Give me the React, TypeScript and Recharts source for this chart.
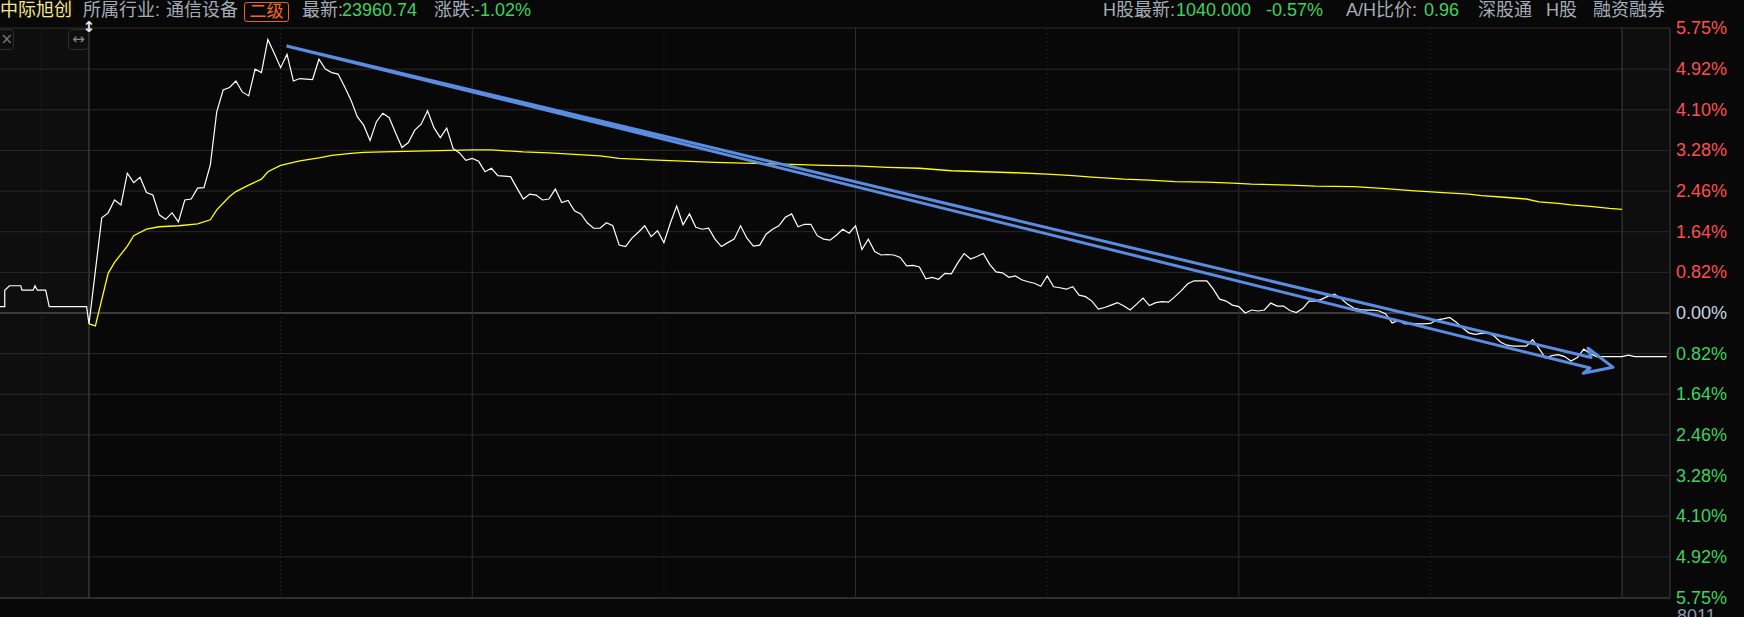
import React from 'react';
import { ComposedChart, Line, XAxis, YAxis, ReferenceLine } from 'recharts';

const W = 1744;
const H = 617;

// auction panel: minutes after 9:15 (panel spans 15 minutes)
const preTimes = [0, 0.8, 0.8, 1.6, 3.5, 3.7, 5.6, 5.9, 6.3, 7.7, 8.3, 14.6];
const preValues = [0.13, 0.13, 0.46, 0.55, 0.55, 0.46, 0.46, 0.55, 0.46, 0.46, 0.13, 0.13];

// main session, one value per minute: 0 = 9:30, 120 = 11:30 / 13:00, 240 = 15:00
const priceValues = [
  -0.22, 0.85, 1.92, 2.02, 2.28, 2.18, 2.82, 2.63, 2.74, 2.43,
  2.38, 1.98, 1.89, 2.02, 1.84, 2.28, 2.3, 2.52, 2.53, 2.99,
  4.06, 4.5, 4.55, 4.68, 4.46, 4.38, 4.92, 4.85, 5.52, 5.24,
  4.95, 5.22, 4.68, 4.73, 4.72, 4.71, 5.12, 4.92, 4.85, 4.82,
  4.57, 4.3, 3.96, 3.79, 3.48, 3.86, 4.03, 3.94, 3.63, 3.34,
  3.44, 3.69, 3.81, 4.08, 3.74, 3.54, 3.73, 3.32, 3.23, 3.08,
  3.12, 3.06, 2.85, 2.92, 2.77, 2.76, 2.75, 2.52, 2.3, 2.4,
  2.38, 2.28, 2.3, 2.5, 2.23, 2.27, 2.06, 2.0, 1.82, 1.71,
  1.71, 1.82, 1.76, 1.37, 1.34, 1.51, 1.63, 1.76, 1.54, 1.66,
  1.42, 1.81, 2.16, 1.78, 2.0, 1.73, 1.69, 1.71, 1.49, 1.34,
  1.42, 1.49, 1.76, 1.51, 1.35, 1.37, 1.59, 1.69, 1.76, 1.93,
  2.0, 1.74, 1.79, 1.79, 1.56, 1.49, 1.47, 1.57, 1.69, 1.61,
  1.76, 1.28, 1.49, 1.24, 1.17, 1.18, 1.17, 1.12, 0.95, 0.96,
  0.93, 0.69, 0.72, 0.68, 0.8, 0.79, 1.01, 1.2, 1.09, 1.14,
  1.2, 0.98, 0.83, 0.81, 0.72, 0.75, 0.67, 0.63, 0.6, 0.54,
  0.75, 0.53, 0.51, 0.48, 0.53, 0.36, 0.33, 0.24, 0.08, 0.11,
  0.16, 0.21, 0.14, 0.06, 0.18, 0.3, 0.15, 0.21, 0.23, 0.22,
  0.33, 0.45, 0.59, 0.65, 0.65, 0.65, 0.48, 0.28, 0.24, 0.16,
  0.13, 0.0, 0.06, 0.04, 0.06, 0.2, 0.14, 0.14, 0.05, 0.01,
  0.09, 0.24, 0.24, 0.28, 0.34, 0.38, 0.29, 0.18, 0.1, 0.07,
  0.06, 0.06, 0.04, -0.02, -0.2, -0.15, -0.22, -0.21, -0.22, -0.22,
  -0.21, -0.14, -0.12, -0.09, -0.18, -0.3, -0.4, -0.43, -0.41, -0.4,
  -0.47, -0.59, -0.65, -0.67, -0.67, -0.67, -0.54, -0.72, -0.91, -0.86,
  -0.84, -0.88, -0.97, -0.9, -0.73, -0.82, -0.88, -0.88, -0.88, -0.88,
  -0.88,
];

// after-hours panel (minutes after 15:00 on the same minute scale)
const postTimes = [241, 242, 243, 244, 245, 246, 247];
const postValues = [-0.85, -0.88, -0.88, -0.88, -0.88, -0.88, -0.88];

// average price line
const avgTimes = [
  0, 1, 2, 3, 4, 6, 7, 9, 11, 14, 17, 19, 20, 22, 23, 25, 27, 28, 30, 33,
  36, 38, 41, 43, 46, 53, 60, 63, 68, 72, 76, 80, 83, 88, 92, 98, 104, 110, 115, 120,
  125, 130, 135, 140, 145, 150, 154, 157, 162, 166, 170, 175, 179, 182, 188, 192, 198, 203, 207, 212,
  216, 218, 221, 225, 227, 230, 232, 235, 238, 240,
];
const avgValues = [
  -0.22, -0.26, 0.27, 0.8, 1.02, 1.35, 1.56, 1.69, 1.74, 1.76, 1.8, 1.88, 2.08, 2.35, 2.45, 2.58, 2.7, 2.85, 2.98, 3.07,
  3.13, 3.18, 3.22, 3.24, 3.25, 3.27, 3.29, 3.29, 3.25, 3.23, 3.2, 3.17, 3.12, 3.09, 3.07, 3.04, 3.02, 3.0, 2.98, 2.97,
  2.94, 2.92, 2.87, 2.85, 2.83, 2.8, 2.77, 2.74, 2.7, 2.68, 2.65, 2.64, 2.62, 2.6, 2.58, 2.56, 2.55, 2.51, 2.47, 2.43,
  2.4, 2.37, 2.34, 2.3, 2.24, 2.21, 2.18, 2.15, 2.11, 2.09,
];

// hand-drawn arrow annotation (outline), in minute / percent units
const arrowTimes = [30.92, 235.15, 234.68, 238.59, 233.9, 234.99, 30.92];
const arrowValues = [5.387, -0.898, -0.712, -1.096, -1.217, -1.11, 5.387];

const yTicks = [5.75, 4.92, 4.1, 3.28, 2.46, 1.64, 0.82, 0, -0.82, -1.64, -2.46, -3.28, -4.1, -4.92, -5.75];
const hourLines = [60, 120, 180];
const halfHourLines = [30, 90, 150, 210];
const preHalfLine = 6.9;

const PRE_SPAN = 13.93;
const POST_SPAN = 7.5;
const preSlot = (t: number) => -PRE_SPAN + (t * PRE_SPAN) / 15;

const priceData = [
  ...preTimes.map((t, i) => ({ t: preSlot(t), v: preValues[i] })),
  ...priceValues.map((v, i) => ({ t: i, v })),
  ...postTimes.map((t, i) => ({ t, v: postValues[i] })),
];
const avgData = avgTimes.map((t, i) => ({ t, v: avgValues[i] }));
const arrowData = arrowTimes.map((t, i) => ({ t, v: arrowValues[i] }));

const RED = '#ff4f4f';
const GREEN = '#3cd35f';
const GRAY = '#a4acb8';
const GRID = '#2a2a2a';

const YTick = (props: any) => {
  const { x, y, payload } = props;
  const v = payload.value as number;
  const color = v > 0 ? RED : v < 0 ? GREEN : '#c8d6e4';
  return (
    <text x={x} y={y} fill={color} fontSize={18} fontFamily='"Liberation Sans", Arial, sans-serif' textAnchor="start" dominantBaseline="central">
      {Math.abs(v).toFixed(2) + '%'}
    </text>
  );
};

const HFONT = '"Liberation Sans", "Noto Sans CJK SC", sans-serif';

const T = ({ x, c, children }: { x: number; c: string; children: React.ReactNode }) => (
  <div style={{ position: 'absolute', left: x, top: 0, height: 20, lineHeight: '20px', fontSize: 18, color: c, fontFamily: HFONT, whiteSpace: 'pre' }}>
    {children}
  </div>
);

export default function App() {
  return (
    <div style={{ position: 'absolute', left: 0, top: 0, width: W, height: H, background: '#080808', overflow: 'hidden' }}>
      {/* auction and after-hours panels are slightly lighter */}
      <div style={{ position: 'absolute', left: 0, top: 28, width: 89, height: 570, background: '#0e0e0e' }} />
      <div style={{ position: 'absolute', left: 1622, top: 28, width: 48, height: 570, background: '#0e0e0e' }} />

      <div style={{ position: 'absolute', left: 0, top: 0 }}>
        <ComposedChart width={W} height={H} margin={{ top: 28, right: 0, bottom: 19, left: 0 }}>
          <XAxis type="number" dataKey="t" domain={[-PRE_SPAN, 240 + POST_SPAN]} allowDataOverflow hide />
          <YAxis
            orientation="right"
            width={74}
            type="number"
            domain={[-5.75, 5.75]}
            ticks={yTicks}
            interval={0}
            tickLine={false}
            axisLine={false}
            tickMargin={0}
            tick={<YTick />}
            allowDataOverflow
          />
          {yTicks.map((v) => (
            <ReferenceLine key={'h' + v} y={v} stroke={v === 0 ? '#3c3c3c' : Math.abs(v) === 5.75 ? '#2e2e2e' : GRID} strokeWidth={v === 0 || v === -5.75 ? 2 : 1} />
          ))}
          <ReferenceLine x={preSlot(preHalfLine)} stroke="#333" strokeDasharray="1 3" />
          <ReferenceLine x={0} stroke="#383838" strokeWidth={1.5} />
          {hourLines.map((m) => (
            <ReferenceLine key={'v' + m} x={m} stroke="#2e2e2e" />
          ))}
          <ReferenceLine x={240} stroke="#2e2e2e" strokeWidth={1.5} />
          <ReferenceLine x={240 + POST_SPAN} stroke="#2e2e2e" strokeWidth={1.5} />
          {halfHourLines.map((m) => (
            <ReferenceLine key={'d' + m} x={m} stroke="#333" strokeDasharray="1 3" />
          ))}
          <Line data={avgData} dataKey="v" type="linear" stroke="#ffff00" strokeWidth={1.3} dot={false} isAnimationActive={false} />
          <Line data={priceData} dataKey="v" type="linear" stroke="#ffffff" strokeWidth={1.2} dot={false} isAnimationActive={false} />
          <Line data={arrowData} dataKey="v" type="linear" stroke="#5a8de2" strokeWidth={3} strokeLinejoin="round" dot={false} isAnimationActive={false} />
        </ComposedChart>
      </div>

      {/* header */}
      <T x={0} c="#f6e68a">中际旭创</T>
      <T x={83} c={GRAY}>所属行业:</T>
      <T x={166} c={GRAY}>通信设备</T>
      <div style={{ position: 'absolute', left: 244, top: 2, width: 43, height: 18, border: '1px solid #e8641c', borderRadius: 3, color: '#f06a1e', fontSize: 17, lineHeight: '18px', textAlign: 'center', fontFamily: HFONT }}>二级</div>
      <T x={302} c={GRAY}>最新:</T>
      <T x={342} c={GREEN}>23960.74</T>
      <T x={434} c={GRAY}>涨跌:</T>
      <T x={474} c={GREEN}>-1.02%</T>

      <T x={1103} c={GRAY}>H股最新:</T>
      <T x={1176} c={GREEN}>1040.000</T>
      <T x={1266} c={GREEN}>-0.57%</T>
      <T x={1346} c={GRAY}>A/H比价:</T>
      <T x={1424} c={GREEN}>0.96</T>
      <T x={1478} c={GRAY}>深股通</T>
      <T x={1546} c={GRAY}>H股</T>
      <T x={1593} c={GRAY}>融资融券</T>

      {/* small toolbar icons */}
      <div style={{ position: 'absolute', left: -6, top: 29, width: 18, height: 19, border: '1px solid #2c2c2c', borderRadius: 4, color: '#777', fontSize: 15, lineHeight: '19px', textAlign: 'right', fontFamily: '"DejaVu Sans", sans-serif' }}>×</div>
      <div style={{ position: 'absolute', left: 68, top: 29, width: 19, height: 19, border: '1px solid #2c2c2c', borderRadius: 4, color: '#888', fontSize: 15, lineHeight: '19px', textAlign: 'center', fontFamily: '"DejaVu Sans", sans-serif' }}>↔</div>
      <div style={{ position: 'absolute', left: 82, top: 18, width: 14, height: 18, color: '#e6e6e6', fontSize: 15, fontWeight: 'bold', lineHeight: '18px', textAlign: 'center', fontFamily: '"DejaVu Sans", sans-serif' }}>↕</div>

      {/* volume panel label, cut by the window edge */}
      <div style={{ position: 'absolute', left: 1677, top: 607, fontSize: 18, lineHeight: '18px', color: '#8898aa', fontFamily: '"Liberation Sans", sans-serif' }}>8011</div>
    </div>
  );
}
